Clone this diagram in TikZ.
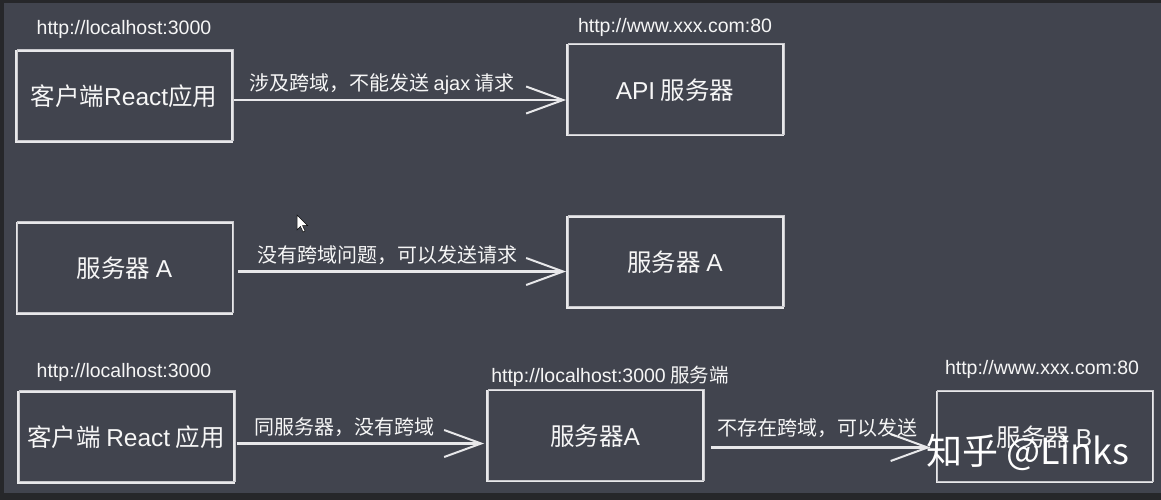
\documentclass[tikz,border=0pt]{standalone}
\usepackage{fontspec}
\setmainfont{Noto Sans CJK SC}
\newfontfamily\lat{Liberation Sans}
\usetikzlibrary{arrows.meta}
\definecolor{bgc}{RGB}{65,68,78}
\definecolor{framec}{RGB}{38,39,42}
\definecolor{inkc}{RGB}{232,232,234}
\definecolor{txtc}{RGB}{246,246,246}
\begin{document}
\begin{tikzpicture}[x=1pt,y=-1pt,
  box/.style={draw=inkc, line width=1.9pt, minimum width=216pt, minimum height=91pt,
    inner sep=0pt, text=txtc, font=\fontsize{24.5}{28}\selectfont,
    postaction={draw=inkc!80!bgc, line width=0.8pt,
      transform canvas={xshift=1.2pt,yshift=1.2pt}}},
  url/.style={text=txtc, inner sep=0pt, font=\fontsize{19.5}{22}\selectfont},
  lab/.style={text=txtc, inner sep=0pt, font=\fontsize{20}{24}\selectfont},
  arr/.style={draw=inkc, line width=2.1pt,
    -{Straight Barb[length=37pt,width=27pt,line width=2pt]}},
  wmark/.style={text=white, inner sep=0pt, font=\fontsize{36}{40}\selectfont},
]
% frame and background
\useasboundingbox (0,0) rectangle (1161,500);
\fill[framec] (0,0) rectangle (1161,500);
\fill[bgc] (4,3) rectangle (1161,493);

% row 1
\node[url] (u1) at (124,29) {\lat http://localhost:3000};
\node[box] (b1) at (124,96.5) {客户端{\lat React}应用};
\node[url] (u2) at (675,27) {\lat http://www.xxx.com:80};
\node[box] (b2) at (675,90) {{\lat API} 服务器};
\draw[arr] ([xshift=1pt,yshift=-3.5pt]b1.east) -- ([yshift=-10pt]b2.west);
\node[lab] (l1) at (382,84) {涉及跨域，不能发送 {\lat ajax} 请求};

% row 2
\node[box] (b3) at (124.5,268.5) {服务器 {\lat A}};
\node[box] (b4) at (675,262.5) {服务器 {\lat A}};
\draw[arr] ([xshift=5pt,yshift=-3pt]b3.east) -- ([yshift=-9pt]b4.west);
\node[lab] (l2) at (387,255) {没有跨域问题，可以发送请求};

% cursor
\filldraw[fill=white, draw=black, line width=0.5pt]
  (297,215) -- (297,230) -- (300.5,226.5) -- (303,232) -- (305,231)
  -- (302.5,225.5) -- (307.5,225.5) -- cycle;

% row 3
\node[url] (u3) at (124,372) {\lat http://localhost:3000};
\node[box] (b5) at (126,437.5) {客户端 {\lat React} 应用};
\node[url] (u4) at (610,376) {{\lat http://localhost:3000} 服务端};
\node[box] (b6) at (595,436) {服务器{\lat A}};
\node[url] (u5) at (1042,369) {\lat http://www.xxx.com:80};
\node[box] (b7) at (1044.5,437) {服务器 {\lat B}};
\draw[arr] ([xshift=2pt,yshift=-6pt]b5.east) -- ([xshift=-2pt,yshift=-7.5pt]b6.west);
\node[lab] (l3) at (344,427) {同服务器，没有跨域};
\draw[arr] ([xshift=7pt,yshift=-11.5pt]b6.east) -- ([xshift=-5pt,yshift=-10.5pt]b7.west);
\node[lab] (l4) at (817,428) {不存在跨域，可以发送};

% watermark
\node[wmark] (wm) at (1028,452) {知乎 @Links};
\end{tikzpicture}
\end{document}
